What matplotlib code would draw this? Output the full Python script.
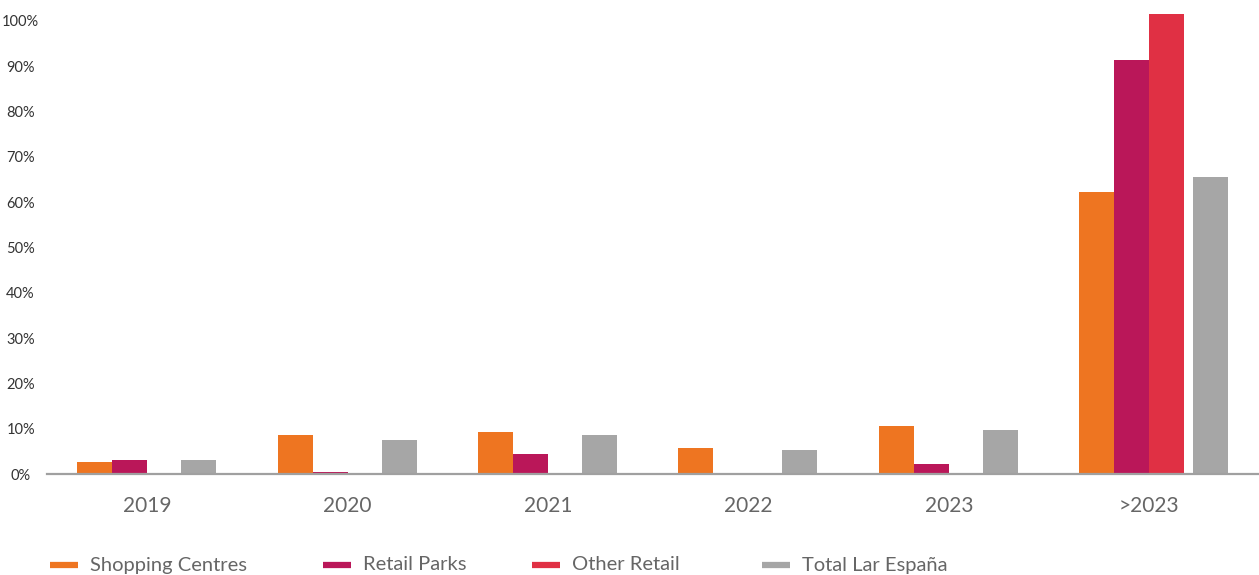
import matplotlib
matplotlib.use("Agg")
import matplotlib.pyplot as plt
from matplotlib.lines import Line2D
import numpy as np

# Lease expiry profile by year, % of rent
years = ["2019", "2020", "2021", "2022", "2023", ">2023"]
shopping_centres = [2.6, 8.6, 9.2, 5.7, 10.6, 62.3]
retail_parks = [3.1, 0.4, 4.4, 0.0, 2.2, 91.4]
other_retail = [0.0, 0.0, 0.0, 0.0, 0.0, 101.5]
total_lar = [3.1, 7.5, 8.6, 5.3, 9.7, 65.6]
y_ticks = [0, 10, 20, 30, 40, 50, 60, 70, 80, 90, 100]

series_names = ["Shopping Centres", "Retail Parks", "Other Retail", "Total Lar España"]
colors = ["#EE7521", "#BA1759", "#E03044", "#A6A6A6"]

FONT = "Lato"
W, H = 1259, 575
fig = plt.figure(figsize=(W / 100, H / 100), dpi=100)
ax = fig.add_axes([47 / W, 1 - 474 / H, 1 - 47 / W, 474 / H])

x = np.arange(len(years))
w = 0.1747
ax.bar(x - 2 * w, shopping_centres, width=w, align="edge", color=colors[0], zorder=2)
ax.bar(x - w, retail_parks, width=w, align="edge", color=colors[1], zorder=2)
ax.bar(x, other_retail, width=w, align="edge", color=colors[2], zorder=2)
# total bars sit after the other-retail slot, with a small gap when that slot is filled
total_left = x + w * np.where(np.array(other_retail) > 0, 1.25, 0.97)
ax.bar(total_left, total_lar, width=w, align="edge", color=colors[3], zorder=2)

ax.set_xlim(-0.5, 5.548)
ax.set_ylim(0, 474 / 4.53)
ax.set_yticks(y_ticks)
ax.set_yticklabels([f"{t}%" for t in y_ticks], family=FONT, fontsize=10.5,
                   color="#333333", ha="center")
ax.tick_params(axis="y", length=0, pad=19)
ax.set_xticks(x)
ax.set_xticklabels(years, family=FONT, fontsize=15, color="#666666")
ax.tick_params(axis="x", length=0, pad=16)

for s in ["top", "right", "left"]:
    ax.spines[s].set_visible(False)
ax.spines["bottom"].set_color("#A0A0A0")
ax.spines["bottom"].set_linewidth(1.6)
ax.spines["bottom"].set_zorder(3)

# legend along the bottom
legend_x = [50, 323, 532, 762]
ly = 1 - 565 / H
for name, c, lx in zip(series_names, colors, legend_x):
    fig.add_artist(Line2D([lx / W, (lx + 28) / W], [ly, ly], color=c, lw=4.5,
                          solid_capstyle="butt"))
    fig.text((lx + 40) / W, ly, name, family=FONT, fontsize=14.5,
             color="#666666", va="center", ha="left")

fig.savefig("out.png", dpi=100)
